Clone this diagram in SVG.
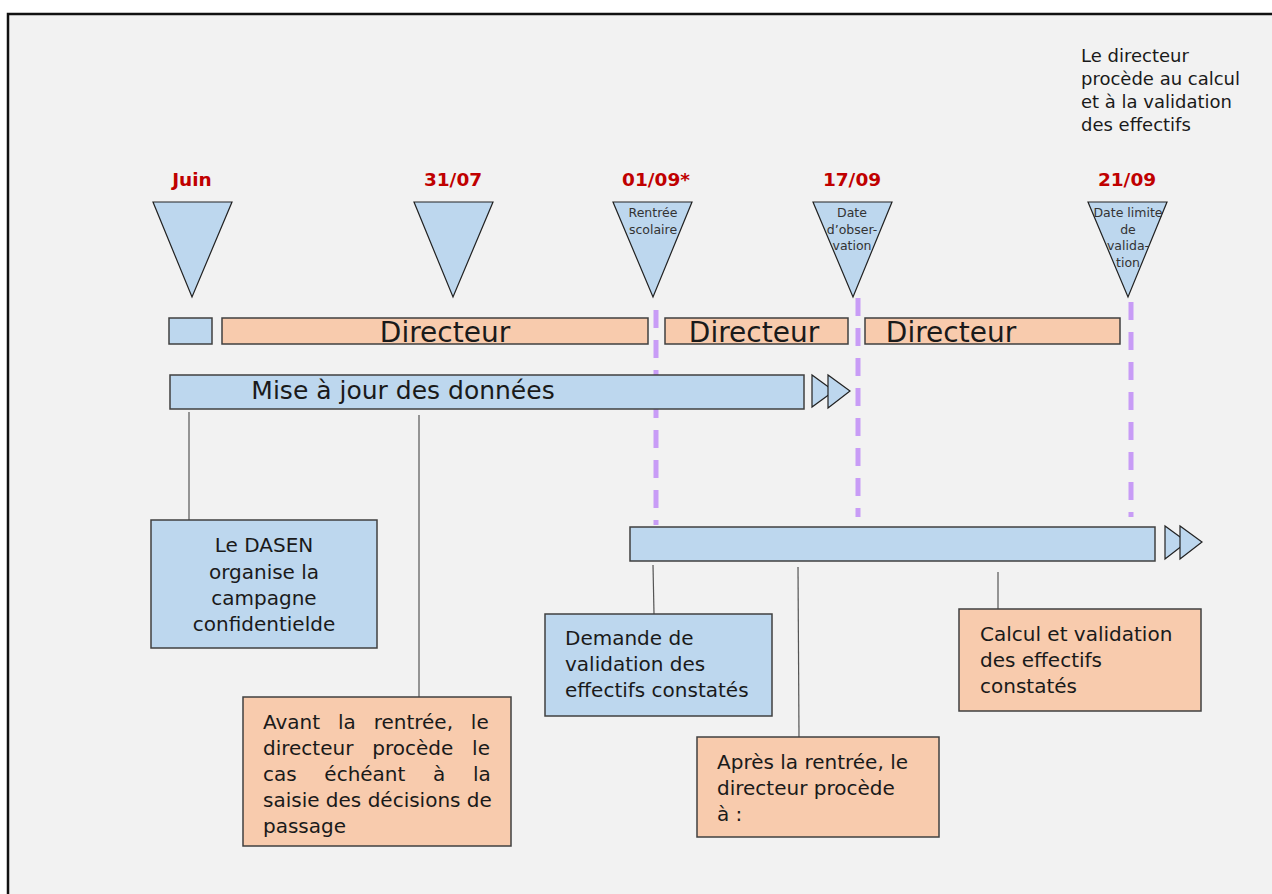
<svg xmlns="http://www.w3.org/2000/svg" width="1272" height="894" viewBox="0 0 1272 894">
<style>
.frame{fill:#f2f2f2;stroke:#111;stroke-width:2.5}
.tri{fill:#bdd7ee;stroke:#222;stroke-width:1.2}
.blue{fill:#bdd7ee;stroke:#404040;stroke-width:1.5}
.orange{fill:#f8cbad;stroke:#404040;stroke-width:1.5}
.date{font-family:"DejaVu Sans",sans-serif;font-weight:bold;font-size:18.5px;fill:#c00000;text-anchor:middle}
.tl{font-family:"DejaVu Sans",sans-serif;font-size:12.5px;fill:#333;text-anchor:middle}
.t{font-family:"DejaVu Sans",sans-serif;font-size:20px;fill:#1a1a1a}
.big{font-family:"DejaVu Sans",sans-serif;font-size:28px;fill:#1a1a1a;text-anchor:middle}
.note{font-family:"DejaVu Sans",sans-serif;font-size:18px;fill:#1a1a1a}
.conn{stroke:#555;stroke-width:1.2;fill:none}
.dash{stroke:#c89cf6;stroke-width:5;stroke-dasharray:18 12;fill:none}
</style>
<rect x="0" y="0" width="1272" height="894" fill="#ffffff"/>
<rect class="frame" x="8" y="14" width="1290" height="910"/>

<g id="note-top">
<text class="note" x="1081" y="62">Le directeur</text>
<text class="note" x="1081" y="85">procède au calcul</text>
<text class="note" x="1081" y="108">et à la validation</text>
<text class="note" x="1081" y="131">des effectifs</text>
</g>

<g id="connectors">
<line class="dash" x1="656" y1="310" x2="656" y2="525"/>
<line class="dash" x1="858" y1="298" x2="858" y2="517"/>
<line class="dash" x1="1131" y1="302" x2="1131" y2="517"/>
<line class="conn" x1="189" y1="412" x2="189" y2="520"/>
<line class="conn" x1="419" y1="415" x2="419" y2="697"/>
<line class="conn" x1="653" y1="565" x2="654" y2="614"/>
<line class="conn" x1="798" y1="567" x2="799" y2="737"/>
<line class="conn" x1="998" y1="572" x2="998" y2="609"/>
</g>

<g id="m-juin">
<text class="date" x="192" y="186">Juin</text>
<polygon class="tri" points="153,202 232,202 192,297"/>
</g>
<g id="m-3107">
<text class="date" x="453" y="186">31/07</text>
<polygon class="tri" points="414,202 493,202 453,297"/>
</g>
<g id="m-0109">
<text class="date" x="656" y="186">01/09*</text>
<polygon class="tri" points="613,202 692,202 653,297"/>
<text class="tl" x="653" y="217">Rentrée</text>
<text class="tl" x="653" y="234">scolaire</text>
</g>
<g id="m-1709">
<text class="date" x="852" y="186">17/09</text>
<polygon class="tri" points="813,202 892,202 853,297"/>
<text class="tl" x="852" y="217">Date</text>
<text class="tl" x="852" y="234">d’obser-</text>
<text class="tl" x="852" y="250">vation</text>
</g>
<g id="m-2109">
<text class="date" x="1127" y="186">21/09</text>
<polygon class="tri" points="1088,202 1167,202 1128,297"/>
<text class="tl" x="1128" y="217">Date limite</text>
<text class="tl" x="1128" y="234">de</text>
<text class="tl" x="1128" y="250">valida-</text>
<text class="tl" x="1128" y="267">tion</text>
</g>

<g id="bar-small">
<rect class="blue" x="169" y="318" width="43" height="26"/>
</g>
<g id="bar-dir1">
<rect class="orange" x="222" y="318" width="426" height="26"/>
<text class="big" x="445" y="342">Directeur</text>
</g>
<g id="bar-dir2">
<rect class="orange" x="665" y="318" width="183" height="26"/>
<text class="big" x="754" y="342">Directeur</text>
</g>
<g id="bar-dir3">
<rect class="orange" x="865" y="318" width="255" height="26"/>
<text class="big" x="951" y="342">Directeur</text>
</g>

<g id="bar-maj">
<rect class="blue" x="170" y="375" width="634" height="34"/>
<text class="big" x="403" y="399" style="font-size:25px">Mise à jour des données</text>
<polygon class="tri" points="812,375 812,407 834,391"/>
<polygon class="tri" points="828,375 828,408 850,391"/>
</g>

<g id="bar-after">
<rect class="blue" x="630" y="527" width="525" height="34"/>
<polygon class="tri" points="1165,526 1165,559 1187,542"/>
<polygon class="tri" points="1180,526 1180,559 1202,542"/>
</g>

<g id="box-dasen">
<rect class="blue" x="151" y="520" width="226" height="128"/>
<text class="t" x="264" y="552" text-anchor="middle">Le DASEN</text>
<text class="t" x="264" y="579" text-anchor="middle">organise la</text>
<text class="t" x="264" y="605" text-anchor="middle">campagne</text>
<text class="t" x="264" y="631" text-anchor="middle">confidentielde</text>
</g>

<g id="box-avant">
<rect class="orange" x="243" y="697" width="268" height="149"/>
<text class="t" x="263" y="729" word-spacing="11.5">Avant la rentrée, le</text>
<text class="t" x="263" y="755" word-spacing="12.5">directeur procède le</text>
<text class="t" x="263" y="781" word-spacing="21.3">cas échéant à la</text>
<text class="t" x="263" y="807">saisie des décisions de</text>
<text class="t" x="263" y="833">passage</text>
</g>

<g id="box-demande">
<rect class="blue" x="545" y="614" width="227" height="102"/>
<text class="t" x="565" y="645">Demande de</text>
<text class="t" x="565" y="671">validation des</text>
<text class="t" x="565" y="697">effectifs constatés</text>
</g>

<g id="box-apres">
<rect class="orange" x="697" y="737" width="242" height="100"/>
<text class="t" x="717" y="769">Après la rentrée, le</text>
<text class="t" x="717" y="795">directeur procède</text>
<text class="t" x="717" y="821">à :</text>
</g>

<g id="box-calcul">
<rect class="orange" x="959" y="609" width="242" height="102"/>
<text class="t" x="980" y="641">Calcul et validation</text>
<text class="t" x="980" y="667">des effectifs</text>
<text class="t" x="980" y="693">constatés</text>
</g>
</svg>
